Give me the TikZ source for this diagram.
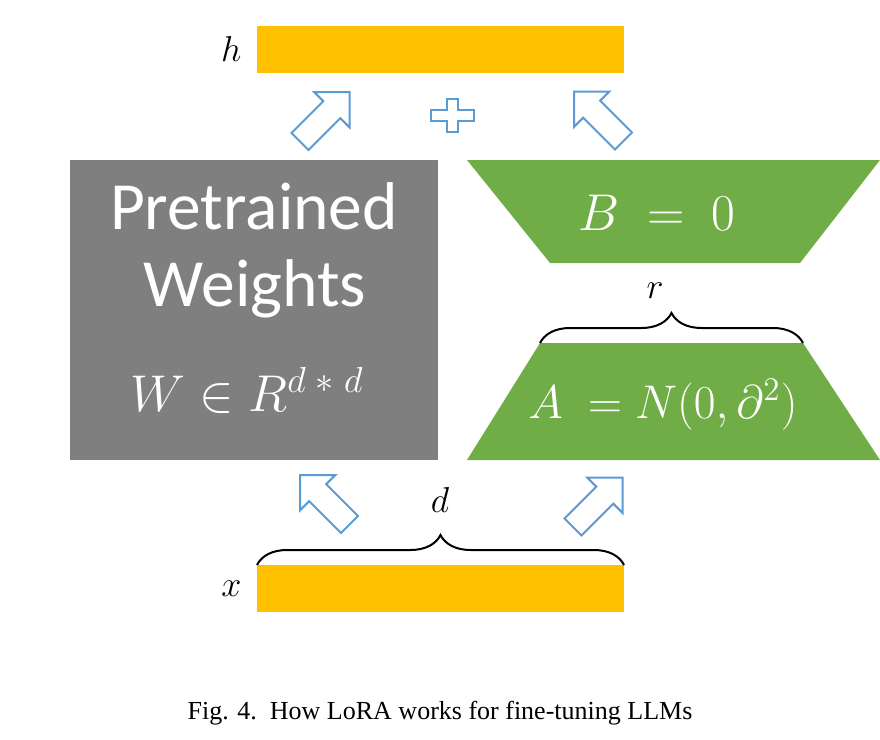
\RequirePackage{fix-cm}
\documentclass[tikz,border=0pt]{standalone}
\usepackage[no-math]{fontspec}
\setmainfont{Liberation Serif}
\newfontfamily\calibrifont{Carlito}
\usepackage{xcolor}
\usepackage{amsmath}
\usepackage{tikz}
\usetikzlibrary{positioning,decorations.pathreplacing}

\definecolor{barorange}{HTML}{FFC000}
\definecolor{loragreen}{HTML}{70AD47}
\definecolor{weightgray}{HTML}{7F7F7F}
\definecolor{arrowblue}{HTML}{5B9BD5}

\begin{document}
\begin{tikzpicture}[
		x=0.4pt, y=-0.4pt,
		bar/.style={fill=barorange, minimum width=146.8pt, minimum height=18.8pt, inner sep=0pt, outer sep=0pt},
		lbl/.style={font=\fontsize{14.4}{17}\selectfont, inner sep=0pt},
		mat/.style={text=white, font=\fontsize{20.7}{24}\selectfont, inner sep=0pt},
		big/.style={text=white, font=\calibrifont\fontsize{27}{32}\selectfont, inner sep=0pt},
		lora/.style={fill=loragreen},
		brc/.style={decorate, decoration={brace, amplitude=12pt}, line width=0.8pt},
		arrowline/.style={draw=arrowblue, line width=0.8pt, fill=white},
		pics/blockarr/.style={code={
				\draw[arrowline] (0,-12) -- (45,-12) -- (45,-25) -- (70,0) -- (45,25) -- (45,12) -- (0,12) -- cycle;
		}}
		]
		\useasboundingbox (0,0) rectangle (880,740);
		
		% Input and output vectors
		\node[bar] (hbar) at (440.5,49.5) {};
		\node[bar] (xbar) at (440.5,588.5) {};
		\node[lbl, left=6pt of hbar] (hlbl) {$h$};
		\node[lbl, left=6pt of xbar] (xlbl) {$x$};
		
		% Frozen weights
		\node[fill=weightgray, minimum width=147.2pt, minimum height=120pt, inner sep=0pt] (wbox) at (254,310) {};
		\node[big, anchor=base] (ptxt) at (254,229) {Pretrained};
		\node[big, anchor=base] (wtxt) at (255,306) {Weights};
		\node[mat, anchor=base] (wmat) at (247,411) {$W\in R^{d\;*\;d}$};
		
		% Low-rank matrices
		\fill[lora] (467,160) -- (880,160) -- (800,263) -- (550,263) -- cycle;
		\coordinate (atl) at (540,343);
		\coordinate (atr) at (803,343);
		\fill[lora] (atl) -- (atr) -- (880,460) -- (467,460) -- cycle;
		\node[mat, anchor=base] (btxt) at (657,230) {$B\ =\ 0$};
		\node[mat, anchor=base, font=\fontsize{18.9}{23}\selectfont] (atxt) at (663,418) {$A\ = N(0,\partial^{2})$};
		
		% Dimensions
		\draw[brc] (xbar.north west) -- (xbar.north east);
		\draw[brc] (atl) -- (atr);
		\node[lbl, anchor=base] (dlbl) at (440,512) {$d$};
		\node[lbl, anchor=base] (rlbl) at (655,298) {$r$};
		
		% Flow arrows and sum
		\pic[rotate=45] at (300,141.5) {blockarr};
		\pic[rotate=135] at (623.5,141) {blockarr};
		\pic[rotate=135] at (349.5,524.5) {blockarr};
		\pic[rotate=45] at (573,527) {blockarr};
		\coordinate (plus) at (452.5,115.5);
		\draw[arrowline] (plus) ++(-21.5,-5.5) -- ++(16,0) -- ++(0,-11) -- ++(11,0) -- ++(0,11) -- ++(16,0) -- ++(0,11) -- ++(-16,0) -- ++(0,11) -- ++(-11,0) -- ++(0,-11) -- ++(-16,0) -- cycle;
		
		\node[anchor=base, font=\fontsize{10.4}{12}\selectfont] (cap) at (440,719) {Fig. 4.\ \ How LoRA works for fine-tuning LLMs};
	\end{tikzpicture}
\end{document}
